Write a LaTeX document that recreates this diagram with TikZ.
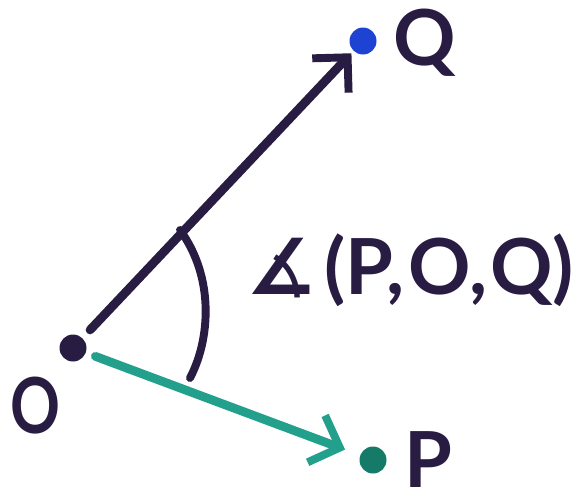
\documentclass[tikz,border=0pt]{standalone}
\usepackage{fontspec}
\setmainfont{Lato}
\newfontfamily\symbfont{DejaVu Sans}
\usetikzlibrary{arrows.meta}
\definecolor{inkdark}{RGB}{40,28,66}
\definecolor{inkblue}{RGB}{30,66,210}
\definecolor{inkteal}{RGB}{34,160,140}
\definecolor{dotteal}{RGB}{22,122,104}
\tikzset{
 dot/.style={circle,inner sep=0pt,minimum size=0.54cm},
 lab/.style={inkdark,font=\fontsize{44}{50}\selectfont\bfseries},
 ink/.style={line width=5pt,line cap=round,
  -{Straight Barb[length=0.5cm,width=1.0cm,line width=4.5pt]}}
}
\begin{document}
\begin{tikzpicture}
\useasboundingbox (0,0) rectangle (11.74,10.06);
% points
\node[dot,fill=inkdark] (o) at (1.46,3.10) {};
\node[dot,fill=inkblue] (q) at (7.26,9.24) {};
\node[dot,fill=dotteal] (p) at (7.46,0.86) {};
\node[lab,xscale=0.8] (ol) at (0.70,1.94) {O};
\node[lab] (ql) at (8.50,9.20) {Q};
\node[lab] (pl) at (8.56,0.86) {P};
% rays
\draw[ink,inkdark,shorten <=0.22cm,shorten >=0.06cm] (o) -- (q);
\draw[ink,inkteal,shorten <=0.20cm,shorten >=0.32cm] (o) -- (p);
% angle mark
\coordinate (a1) at (3.60,5.46);
\coordinate (a2) at (3.80,2.50);
\draw[inkdark,line width=4.5pt,line cap=round]
 (a1) .. controls (4.30,4.50) and (4.20,3.26) .. (a2);
\node[lab] (ang) at (8.20,4.66)
 {{\symbfont ∡}\kern5pt(P,\kern2pt O,\kern2pt Q)};
\end{tikzpicture}
\end{document}
